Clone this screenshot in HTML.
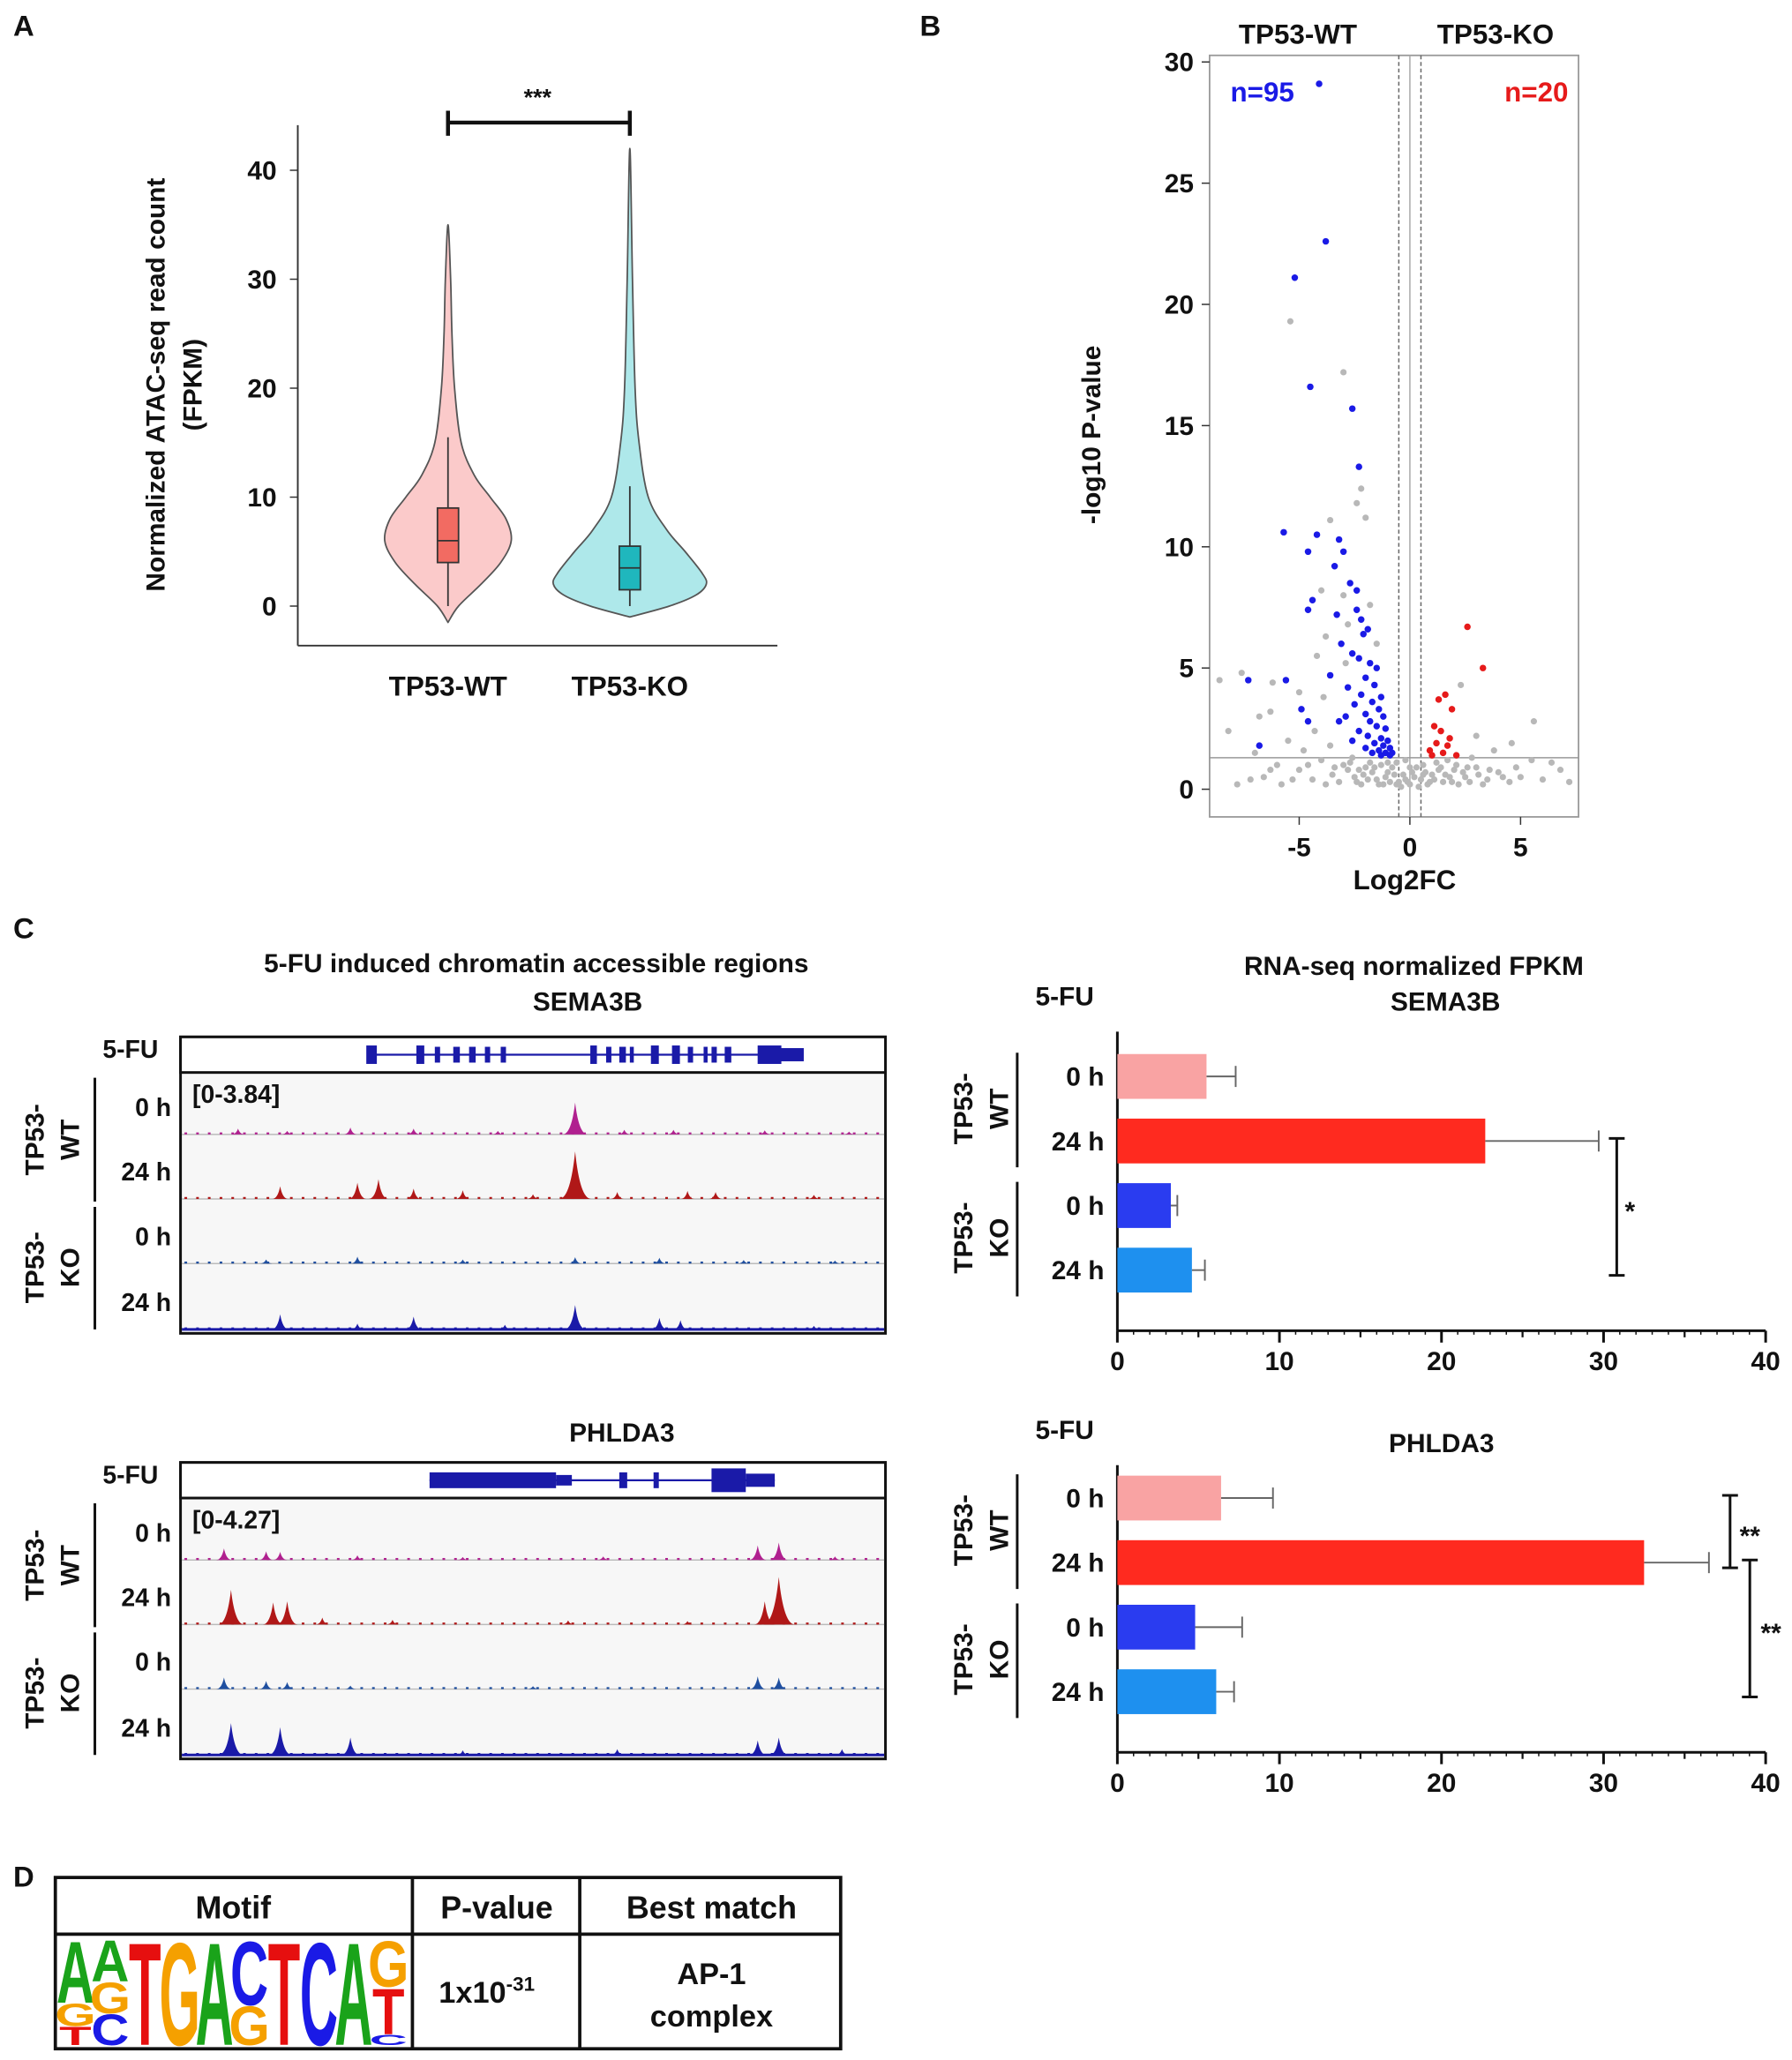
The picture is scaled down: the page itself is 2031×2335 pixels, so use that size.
<!DOCTYPE html>
<html><head><meta charset="utf-8"><style>
html,body{margin:0;padding:0;background:#fff}
svg{display:block}
text{font-family:"Liberation Sans",Arial,sans-serif;font-weight:bold;fill:#111}
</style></head><body>
<svg id="fig" width="2031" height="2335" viewBox="0 0 1360 1563.5" xmlns="http://www.w3.org/2000/svg">
<g id="A"></g>
<g id="B"></g>
<g id="C"></g>
<g id="D"></g>
</svg>
<script>
// ---------- DATA ----------
const violinCats=["TP53-WT","TP53-KO"];
const wtVals=[-1.5,0,2,4,6,8,10,12,15,20,25,30,35];
const wtWidth=[0,8,25,40,48,44,32,20,10,5,3,2,0];
const koVals=[-1,0,1,2,3,5,7,10,15,20,30,42];
const koWidth=[0,30,50,58,55,42,28,14,7,4,2,0];
const wtBox=[0,4,6,9,15.5];
const koBox=[0,1.5,3.5,5.5,11];
const violinTicks=[0,10,20,30,40];

const volBlue=[[-4.1,29.1],[-3.8,22.6],[-5.2,21.1],[-4.5,16.6],[-2.6,15.7],[-2.3,13.3],[-5.7,10.6],[-4.2,10.5],[-3.2,10.3],[-3,9.8],[-3.4,9.2],[-4.6,9.8],[-2.7,8.5],[-2.4,8.2],[-4.4,7.8],[-4.6,7.4],[-3.3,7.2],[-2.4,7.4],[-2.2,7.0],[-2.1,6.4],[-1.9,6.6],[-3.1,6],[-2.6,5.6],[-2.3,5.4],[-1.8,5.2],[-1.5,5.0],[-2.0,4.6],[-1.6,4.3],[-7.3,4.5],[-5.6,4.5],[-3.6,4.7],[-2.8,4.2],[-2.2,3.9],[-1.3,3.8],[-1.7,3.6],[-2.5,3.5],[-1.4,3.3],[-2.0,3.1],[-1.2,3.0],[-1.8,2.8],[-3.2,2.8],[-4.6,2.8],[-1.5,2.6],[-1.1,2.5],[-2.3,2.4],[-1.9,2.2],[-1.3,2.1],[-1.0,2.0],[-2.6,2.0],[-1.6,1.9],[-1.2,1.8],[-0.9,1.7],[-2.0,1.7],[-1.4,1.6],[-0.8,1.5],[-1.1,1.5],[-1.7,1.5],[-6.8,1.8],[-4.9,3.3],[-2.9,3.0],[-0.9,1.4],[-1.3,1.4]];
const volRed=[[2.6,6.7],[1.6,3.9],[1.3,3.7],[1.9,3.3],[1.1,2.6],[1.4,2.4],[1.8,2.1],[1.2,1.9],[0.9,1.6],[1.5,1.5],[2.1,1.4],[1.0,1.4],[3.3,5.0],[1.7,1.8]];
const volGrey=[[-5.4,19.3],[-3.0,17.2],[-2.4,11.8],[-2.0,11.2],[-3.6,11.1],[-2.2,12.4],[-4.0,8.2],[-3.0,8.0],[-1.8,7.6],[-2.8,6.8],[-3.8,6.3],[-1.5,6.0],[-4.2,5.5],[-2.9,5.2],[-6.2,4.4],[-8.6,4.5],[-7.6,4.8],[-5.0,4.0],[-3.9,3.8],[-6.3,3.2],[-4.3,2.4],[-5.5,2.0],[-7.0,1.5],[-6.0,1.0],[-5.0,0.8],[-4.0,1.2],[-3.5,0.6],[-3,1.0],[-2.5,0.5],[-2,0.9],[-1.5,0.4],[-1,0.7],[-0.5,0.3],[0,0.2],[0.5,0.4],[1,0.6],[1.5,0.3],[2,0.8],[2.5,0.5],[3,0.9],[3.5,0.4],[4,0.7],[4.5,0.3],[5,0.5],[5.5,1.2],[6,0.4],[6.8,0.8],[7.2,0.3],[5.6,2.8],[2.3,4.3],[3.0,2.2],[4.6,1.9],[0.6,1.0],[-0.6,1.1],[-0.3,0.6],[0.3,0.9],[-7.8,0.2],[-6.6,0.5],[-3.2,0.3],[1.2,1.1],[2.8,1.3],[-2.6,1.3],[-1.8,1.1],[3.8,1.6],[-8.2,2.4],[-6.8,3.0],[-3.6,1.8],[-4.8,1.6],[-0.2,1.2],[0.1,0.7],[-1.2,0.2],[-0.8,0.9],[0.8,0.2],[1.8,0.5],[2.2,0.2],[-2.2,0.2],[-1.6,0.9],[-0.4,0.1],[0.4,0.1],[1.4,0.9],[-2.8,0.8],[3.3,0.2],[-4.4,0.4],[-5.8,0.2],
[-2.4,0.3],[-2.1,0.6],[-1.9,0.4],[-1.7,0.7],[-1.4,0.2],[-1.3,1.0],[-1.1,0.5],[-0.9,0.3],[-0.7,0.6],[-0.6,0.2],[-0.2,0.4],[0.2,0.5],[0.7,0.7],[0.9,0.3],[1.1,0.4],[1.3,0.8],[1.6,0.6],[1.9,0.3],[2.1,1.0],[2.4,0.7],[2.7,0.3],[3.1,0.6],[3.6,0.8],[4.2,0.5],[4.8,0.9],[-3.8,0.2],[-3.4,0.9],[-2.7,1.1],[-2.3,0.8],[-1.0,1.1],[0.0,0.9],[0.6,0.6],[1.7,1.2],[2.6,0.9],[-4.6,1.0],[-5.3,0.4],[-6.3,0.8],[-7.2,0.4],[6.4,1.1],[-0.1,0.3]];
const volXTicks=[-5,0,5];
const volYTicks=[0,5,10,15,20,25,30];

const barCats=["0 h","24 h","0 h","24 h"];
const semaVals=[5.5,22.7,3.3,4.6];
const semaErr=[1.8,7.0,0.4,0.8];
const phldaVals=[6.4,32.5,4.8,6.1];
const phldaErr=[3.2,4.0,2.9,1.1];
const barTicks=[0,10,20,30,40];

const semaPeaks=[
 [[0.56,0.55],[0.08,0.1],[0.24,0.12],[0.33,0.1],[0.63,0.08],[0.7,0.08],[0.45,0.06],[0.15,0.06],[0.83,0.07],[0.95,0.05]],
 [[0.56,0.82],[0.25,0.28],[0.28,0.34],[0.14,0.22],[0.33,0.18],[0.4,0.15],[0.62,0.12],[0.72,0.14],[0.76,0.12],[0.5,0.08],[0.9,0.07]],
 [[0.25,0.12],[0.12,0.07],[0.4,0.07],[0.56,0.11],[0.68,0.1],[0.8,0.06],[0.93,0.05]],
 [[0.56,0.42],[0.14,0.26],[0.33,0.22],[0.25,0.1],[0.68,0.2],[0.71,0.16],[0.46,0.08],[0.9,0.06]]];
const phldaPeaks=[
 [[0.06,0.2],[0.12,0.15],[0.14,0.14],[0.25,0.08],[0.4,0.05],[0.82,0.25],[0.85,0.3],[0.6,0.06],[0.93,0.06]],
 [[0.07,0.6],[0.13,0.38],[0.15,0.4],[0.2,0.12],[0.3,0.08],[0.85,0.82],[0.83,0.4],[0.55,0.07],[0.72,0.06]],
 [[0.06,0.2],[0.12,0.14],[0.15,0.12],[0.24,0.06],[0.82,0.22],[0.85,0.2],[0.5,0.05]],
 [[0.07,0.55],[0.14,0.48],[0.24,0.3],[0.4,0.08],[0.62,0.1],[0.82,0.25],[0.85,0.3],[0.94,0.1]]];

const motifCols=[
 [["T",0.18],["G",0.22],["A",0.6]],
 [["C",0.3],["G",0.3],["A",0.4]],
 [["T",1]],[["G",1]],[["A",1]],
 [["G",0.38],["C",0.62]],
 [["T",1]],[["C",1]],[["A",1]],
 [["C",0.1],["T",0.45],["G",0.45]]];

// ---------- HELPERS ----------
const NS="http://www.w3.org/2000/svg";
function el(p,tag,attrs,txt){const e=document.createElementNS(NS,tag);for(const k in attrs)e.setAttribute(k,attrs[k]);if(txt!==undefined)e.textContent=txt;p.appendChild(e);return e;}
function T(p,x,y,s,size,extra){const e=el(p,"text",Object.assign({x:x,y:y,"font-size":size,"text-anchor":"middle"},extra||{}),s);return e;}
function smooth(pts){let d="M"+pts[0].join(",");
 for(let i=0;i<pts.length-1;i++){const p0=pts[Math.max(0,i-1)],p1=pts[i],p2=pts[i+1],p3=pts[Math.min(pts.length-1,i+2)];
  const c1=[p1[0]+(p2[0]-p0[0])/6,p1[1]+(p2[1]-p0[1])/6],c2=[p2[0]-(p3[0]-p1[0])/6,p2[1]-(p3[1]-p1[1])/6];
  d+=`C${c1.join(",")} ${c2.join(",")} ${p2.join(",")}`;}
 return d+"Z";}

// ---------- PANEL A ----------
(function(){
const g=document.getElementById("A");
const yA=v=>460-v*8.27;
const lab=T(g,18,27,"A",22);
el(g,"line",{x1:226,y1:95,x2:226,y2:490,stroke:"#333","stroke-width":1.3});
el(g,"line",{x1:226,y1:490,x2:590,y2:490,stroke:"#333","stroke-width":1.3});
violinTicks.forEach(t=>{el(g,"line",{x1:220,y1:yA(t),x2:226,y2:yA(t),stroke:"#333"});
 const e=T(g,210,yA(t)+7,String(t),20,{"text-anchor":"end"});});
const yt=el(g,"text",{transform:"translate(125,292) rotate(-90)","font-size":20,"text-anchor":"middle"},"Normalized ATAC-seq read count");

T(g,0,0,"(FPKM)",20,{transform:"translate(153,292) rotate(-90)"});
const cx=[340,478];
const sets=[[wtVals,wtWidth,"#fbcaca","#f26b62",wtBox],[koVals,koWidth,"#aee8ea","#1fb7bd",koBox]];
sets.forEach((s,i)=>{
 let pts=[];s[0].forEach((v,j)=>pts.push([cx[i]+s[1][j],yA(v)]));
 for(let j=s[0].length-2;j>=1;j--)pts.push([cx[i]-s[1][j],yA(s[0][j])]);
 pts.push([cx[i],yA(s[0][0])]);
 const v=el(g,"path",{d:smooth(pts),fill:s[2],stroke:"#555","stroke-width":1.2,"stroke-linejoin":"round"});
 
 const b=s[4];
 el(g,"line",{x1:cx[i],y1:yA(b[0]),x2:cx[i],y2:yA(b[4]),stroke:"#333","stroke-width":1.2});
 const r=el(g,"rect",{x:cx[i]-8,y:yA(b[3]),width:16,height:yA(b[1])-yA(b[3]),fill:s[3],stroke:"#333","stroke-width":1.2});
 
 el(g,"line",{x1:cx[i]-8,y1:yA(b[2]),x2:cx[i]+8,y2:yA(b[2]),stroke:"#333","stroke-width":1.2});
 const xl=T(g,cx[i],528,violinCats[i],21);
});
el(g,"path",{d:"M340,84V103M340,93H478M478,84V103",stroke:"#111","stroke-width":3,fill:"none"});
T(g,408,80,"***",18);
})();

// ---------- PANEL B ----------
(function(){
const g=document.getElementById("B");
const xB=v=>1070+v*16.8, yB=v=>599-v*18.4;
T(g,706,27,"B",22);
const f=el(g,"rect",{x:918,y:42,width:280,height:578,fill:"none",stroke:"#999","stroke-width":1.2});

volYTicks.forEach(t=>{el(g,"line",{x1:912,y1:yB(t),x2:918,y2:yB(t),stroke:"#333"});
 const e=T(g,906,yB(t)+7,String(t),20,{"text-anchor":"end"});});
volXTicks.forEach(t=>{el(g,"line",{x1:xB(t),y1:620,x2:xB(t),y2:626,stroke:"#333"});
 const e=T(g,xB(t),650,String(t),20);});
el(g,"line",{x1:xB(-0.5),y1:42,x2:xB(-0.5),y2:620,stroke:"#666","stroke-dasharray":"3,2"});
el(g,"line",{x1:xB(0.5),y1:42,x2:xB(0.5),y2:620,stroke:"#666","stroke-dasharray":"3,2"});
el(g,"line",{x1:xB(0),y1:42,x2:xB(0),y2:620,stroke:"#aaa"});
el(g,"line",{x1:918,y1:yB(1.3),x2:1198,y2:yB(1.3),stroke:"#999"});
volGrey.forEach(p=>{const c=el(g,"circle",{cx:xB(p[0]),cy:yB(p[1]),r:2.4,fill:"#b8b8b8"});});
volBlue.forEach(p=>{const c=el(g,"circle",{cx:xB(p[0]),cy:yB(p[1]),r:2.5,fill:"#1a1ae6"});});
volRed.forEach(p=>{const c=el(g,"circle",{cx:xB(p[0]),cy:yB(p[1]),r:2.5,fill:"#e61a1a"});});
T(g,985,33,"TP53-WT",21);T(g,1135,33,"TP53-KO",21);
T(g,958,77,"n=95",21,{style:"fill:#1a1ae6"});T(g,1166,77,"n=20",21,{style:"fill:#e61a1a"});
const yt=el(g,"text",{transform:"translate(835,330) rotate(-90)","font-size":20,"text-anchor":"middle"},"-log10 P-value");

const xt=T(g,1066,675,"Log2FC",21);
})();

// ---------- PANEL C ----------
(function(){
const g=document.getElementById("C");
T(g,18,712,"C",22);
T(g,407,738,"5-FU induced chromatin accessible  regions",20);
T(g,446,767,"SEMA3B",20);T(g,472,1094,"PHLDA3",20);
T(g,1073,740,"RNA-seq normalized  FPKM",20);T(g,1097,767,"SEMA3B",20);T(g,1094,1102,"PHLDA3",20);
const colors=["#b0208f","#b01818","#1f4fa0","#1a1aa8"];
function tracks(top,peaksArr,scale,geneStart,geneEnd,exons,name){
 const box=el(g,"rect",{x:137,y:top,width:535,height:225,fill:"#f7f7f7",stroke:"#111","stroke-width":2});
 
 el(g,"rect",{x:137,y:top,width:535,height:27,fill:"#fff",stroke:"#111","stroke-width":2});
 const gy=top+13.5;
 el(g,"line",{x1:geneStart,y1:gy,x2:geneEnd,y2:gy,stroke:"#1a1aa8","stroke-width":1.5});
 exons.forEach(e=>el(g,"rect",{x:e[0],y:gy-e[2]/2,width:e[1],height:e[2],fill:"#1a1aa8"}));
 T(g,99,top+16,"5-FU",19);
 const bases=[top+74,top+123,top+172,top+222];
 bases.forEach((b,i)=>{
  el(g,"line",{x1:138,y1:b,x2:671,y2:b,stroke:i==3?"#1a1aa8":"#bbb","stroke-width":i==3?2:1});
  peaksArr[i].forEach(p=>{const x=138+p[0]*533,h=p[1]*44,w=4+p[1]*10;
   const pk=el(g,"path",{d:`M${x-w},${b}Q${x-w*0.3},${b} ${x},${b-h}Q${x+w*0.3},${b} ${x+w},${b}Z`,fill:colors[i]});
   });
  for(let k=0;k<60;k++){const x=140+k*8.9;el(g,"rect",{x:x,y:b-1.5,width:2,height:1.5,fill:colors[i]});}
  T(g,130,b-14,i%2?"24 h":"0 h",19,{"text-anchor":"end"});
 });
 T(g,146,top+50,scale,19,{"text-anchor":"start"});
 el(g,"line",{x1:72,y1:top+31,x2:72,y2:top+125,stroke:"#111","stroke-width":2});
 el(g,"line",{x1:72,y1:top+129,x2:72,y2:top+222,stroke:"#111","stroke-width":2});
 T(g,0,0,"TP53-",20,{transform:`translate(33,${top+78}) rotate(-90)`});
 T(g,0,0,"WT",20,{transform:`translate(60,${top+78}) rotate(-90)`});
 T(g,0,0,"TP53-",20,{transform:`translate(33,${top+175}) rotate(-90)`});
 T(g,0,0,"KO",20,{transform:`translate(60,${top+175}) rotate(-90)`});
}
tracks(787,semaPeaks,"[0-3.84]",280,608,[[278,8,14],[316,6,14],[330,4,12],[344,5,12],[356,5,12],[368,4,12],[380,4,12],[448,5,14],[460,4,12],[470,5,12],[478,3,12],[494,6,14],[510,6,14],[522,4,12],[534,3,12],[540,4,12],[550,5,12],[575,18,14],[592,18,10]],"sema3b");
tracks(1110,phldaPeaks,"[0-4.27]",326,588,[[326,96,12],[422,12,8],[470,6,12],[496,4,12],[540,26,18],[566,22,10]],"phlda3");

function bars(axisY,topY,vals,errs,sigs,name){
 const xS=v=>848+v*12.3;
 const centers=[axisY-193,axisY-144,axisY-95,axisY-46];
 T(g,808,topY-20,"5-FU",20);
 el(g,"line",{x1:848,y1:topY,x2:848,y2:axisY,stroke:"#111","stroke-width":2});
 el(g,"line",{x1:848,y1:axisY,x2:1340,y2:axisY,stroke:"#111","stroke-width":2});
 barTicks.forEach(t=>{el(g,"line",{x1:xS(t),y1:axisY,x2:xS(t),y2:axisY+9,stroke:"#111","stroke-width":2});
  const e=T(g,xS(t),axisY+30,String(t),20);
  if(t<40)el(g,"line",{x1:xS(t+5),y1:axisY,x2:xS(t+5),y2:axisY+5,stroke:"#111","stroke-width":1.5});});
 for(let t=1;t<40;t++){if(t%5)el(g,"line",{x1:xS(t),y1:axisY,x2:xS(t),y2:axisY+3,stroke:"#111","stroke-width":1});}
 const bc=["#f9a3a3","#ff2a1f","#2a3cf0","#1e90ef"];
 vals.forEach((v,i)=>{const c=centers[i];
  el(g,"line",{x1:xS(v),y1:c,x2:xS(v+errs[i]),y2:c,stroke:"#666","stroke-width":1.3});
  el(g,"line",{x1:xS(v+errs[i]),y1:c-8,x2:xS(v+errs[i]),y2:c+8,stroke:"#666","stroke-width":1.3});
  const r=el(g,"rect",{x:848,y:c-17,width:xS(v)-848,height:34,fill:bc[i]});
  
  T(g,838,c+7,barCats[i],20,{"text-anchor":"end"});});
 el(g,"line",{x1:772,y1:centers[0]-18,x2:772,y2:centers[1]+20,stroke:"#111","stroke-width":2});
 el(g,"line",{x1:772,y1:centers[2]-18,x2:772,y2:centers[3]+20,stroke:"#111","stroke-width":2});
 T(g,0,0,"TP53-",20,{transform:`translate(738,${(centers[0]+centers[1])/2}) rotate(-90)`});
 T(g,0,0,"WT",20,{transform:`translate(765,${(centers[0]+centers[1])/2}) rotate(-90)`});
 T(g,0,0,"TP53-",20,{transform:`translate(738,${(centers[2]+centers[3])/2}) rotate(-90)`});
 T(g,0,0,"KO",20,{transform:`translate(765,${(centers[2]+centers[3])/2}) rotate(-90)`});
 sigs.forEach(s=>{const y1=centers[s[0]]-2,y2=centers[s[1]]+4;
  el(g,"path",{d:`M${s[2]-6},${y1}H${s[2]+6}M${s[2]},${y1}V${y2}M${s[2]-6},${y2}H${s[2]+6}`,stroke:"#111","stroke-width":2,fill:"none"});
  T(g,s[2]+s[4],(y1+y2)/2+10,s[3],20);});
}
bars(1010,783,semaVals,semaErr,[[1,3,1227,"*",10]],"sema3b");
bars(1330,1112,phldaVals,phldaErr,[[0,1,1313,"**",15],[1,3,1328,"**",16]],"phlda3");
})();

// ---------- PANEL D ----------
(function(){
const g=document.getElementById("D");
T(g,18,1432,"D",22);
const t=el(g,"rect",{x:42,y:1425,width:596,height:130,fill:"#fff",stroke:"#111","stroke-width":2.5});

el(g,"line",{x1:42,y1:1468,x2:638,y2:1468,stroke:"#111","stroke-width":2.5});
el(g,"line",{x1:313,y1:1425,x2:313,y2:1555,stroke:"#111","stroke-width":2.5});
el(g,"line",{x1:440,y1:1425,x2:440,y2:1555,stroke:"#111","stroke-width":2.5});
T(g,177,1456,"Motif",24);T(g,377,1456,"P-value",24);T(g,540,1456,"Best match",24);
const pv=el(g,"text",{x:333,y:1520,"font-size":23,"text-anchor":"start"});
pv.textContent="1x10";el(pv,"tspan",{dy:-9,"font-size":15},"-31");
T(g,540,1506,"AP-1",23);T(g,540,1538,"complex",23);
const lc={A:"#1aa31a",C:"#1a1ae6",G:"#f5a000",T:"#e60f0f"};
const x0=44,cw=26.4,bottom=1552,H=80;
motifCols.forEach((col,i)=>{let y=bottom;
 col.forEach(l=>{const h=l[1]*H;
  const e=el(g,"text",{x:0,y:0,"font-size":100,"text-anchor":"middle",style:"fill:"+lc[l[0]],
   transform:`translate(${x0+cw*i+cw/2},${y}) scale(${cw/66},${h/72})`},l[0]);
  
  y-=h;});
});
})();
</script>
</body></html>
